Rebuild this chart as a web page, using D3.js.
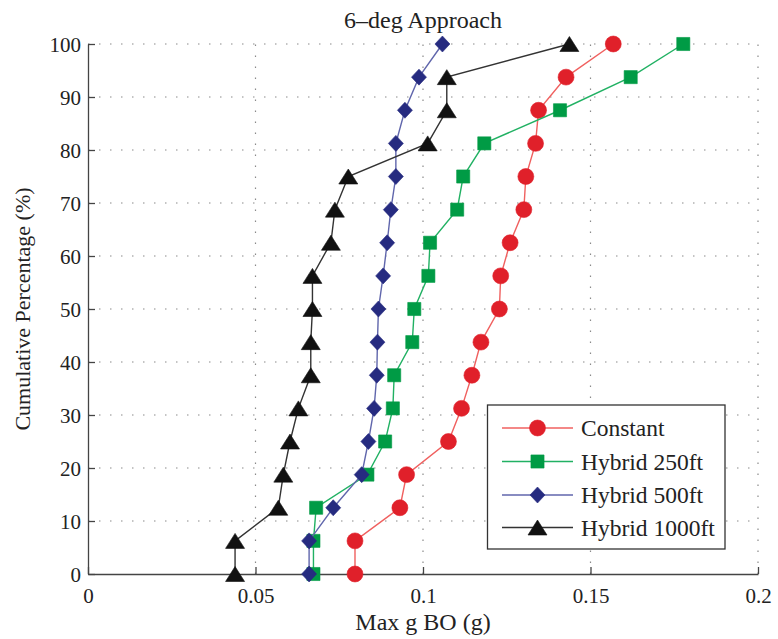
<!DOCTYPE html>
<html>
<head>
<meta charset="utf-8">
<script src="https://cdn.jsdelivr.net/npm/d3@7"></script>
<style>
  html, body { margin: 0; padding: 0; background: #fff; }
  svg { display: block; }
  text { font-family: "Liberation Serif", "Times New Roman", serif; fill: #222; }
</style>
</head>
<body>
<svg id="chart" width="778" height="639"></svg>
<script>
// Cumulative percentage levels shared by every series
const cumulative = [0, 6.25, 12.5, 18.75, 25, 31.25, 37.5, 43.75, 50, 56.25, 62.5, 68.75, 75, 81.25, 87.5, 93.75, 100];

// Max g BO (g) for each approach profile, sorted ascending
const constant   = [0.0797, 0.0797, 0.0931, 0.0951, 0.1076, 0.1115, 0.1146, 0.1173, 0.1228, 0.1232, 0.1260, 0.1301, 0.1307, 0.1336, 0.1345, 0.1427, 0.1568];
const hybrid250  = [0.0673, 0.0673, 0.0681, 0.0834, 0.0887, 0.0910, 0.0914, 0.0968, 0.0974, 0.1016, 0.1021, 0.1102, 0.1120, 0.1183, 0.1409, 0.1620, 0.1777];
const hybrid500  = [0.0660, 0.0660, 0.0732, 0.0817, 0.0837, 0.0854, 0.0862, 0.0864, 0.0867, 0.0881, 0.0893, 0.0904, 0.0919, 0.0919, 0.0946, 0.0988, 0.1058];
const hybrid1000 = [0.0439, 0.0439, 0.0568, 0.0583, 0.0603, 0.0628, 0.0665, 0.0665, 0.0670, 0.0670, 0.0725, 0.0737, 0.0777, 0.1014, 0.1071, 0.1071, 0.1437];

const seriesNames = ["Constant", "Hybrid 250ft", "Hybrid 500ft", "Hybrid 1000ft"];
const xTicks = [0, 0.05, 0.1, 0.15, 0.2];
const xTickLabels = ["0", "0.05", "0.1", "0.15", "0.2"];
const yTicks = [0, 10, 20, 30, 40, 50, 60, 70, 80, 90, 100];

// Marker shapes: a near-square diamond and a flat, box-centred triangle
const symDiamond = {
  draw(ctx) {
    ctx.moveTo(0, -8); ctx.lineTo(7.5, 0); ctx.lineTo(0, 8); ctx.lineTo(-7.5, 0); ctx.closePath();
  }
};
const symTriangle = {
  draw(ctx) {
    ctx.moveTo(0, -7.5); ctx.lineTo(9.5, 7.5); ctx.lineTo(-9.5, 7.5); ctx.closePath();
  }
};

const series = [
  { name: seriesNames[0], values: constant,   line: "#f0605f", fill: "#e0202a", symbol: d3.symbolCircle, size: 200 },
  { name: seriesNames[1], values: hybrid250,  line: "#21b163", fill: "#009b45", symbol: d3.symbolSquare, size: 172 },
  { name: seriesNames[2], values: hybrid500,  line: "#6066ac", fill: "#262b80", symbol: symDiamond,      size: 1 },
  { name: seriesNames[3], values: hybrid1000, line: "#333333", fill: "#111111", symbol: symTriangle,     size: 1 }
];

const svg = d3.select("#chart");
const plotL = 88, plotR = 758, plotT = 44, plotB = 574;

const x = d3.scaleLinear().domain([0, 0.2]).range([plotL, plotR]);
const y = d3.scaleLinear().domain([0, 100]).range([plotB, plotT]);

// Dotted grid
const grid = svg.append("g").attr("stroke", "#8a8a8a").attr("stroke-width", 1.2)
  .attr("stroke-dasharray", "1.5,9.5").attr("fill", "none");
grid.selectAll("line.h").data(yTicks.filter(d => d > 0)).join("line")
  .attr("class", "h")
  .attr("x1", plotL).attr("x2", plotR)
  .attr("y1", d => y(d)).attr("y2", d => y(d));
grid.selectAll("line.v").data(xTicks.filter(d => d > 0)).join("line")
  .attr("class", "v")
  .attr("y1", plotB).attr("y2", plotT)
  .attr("x1", d => x(d)).attr("x2", d => x(d));

// Axes (ticks point inward)
const xAxis = svg.append("g").attr("transform", `translate(0,${plotB})`)
  .call(d3.axisBottom(x).tickValues(xTicks).tickSizeInner(-7).tickSizeOuter(0)
    .tickFormat((d, i) => xTickLabels[i]).tickPadding(14));
const yAxis = svg.append("g").attr("transform", `translate(${plotL},0)`)
  .call(d3.axisLeft(y).tickValues(yTicks).tickSizeInner(-7).tickSizeOuter(0).tickPadding(7));

[xAxis, yAxis].forEach(a => {
  a.select(".domain").attr("stroke", "#444").attr("stroke-width", 1.3);
  a.selectAll(".tick line").attr("stroke", "#444").attr("stroke-width", 1.3);
  a.selectAll(".tick text").style("font-family", '"Liberation Serif", serif')
    .style("font-size", "21px").attr("fill", "#222");
});
yAxis.selectAll(".tick text").attr("dy", "0.35em");
xAxis.selectAll(".tick text").attr("dy", "0.71em");

// Series lines and markers
const line = d3.line().x(d => x(d[0])).y(d => y(d[1]));
series.forEach(s => {
  const pts = s.values.map((v, i) => [v, cumulative[i]]);
  const g = svg.append("g");
  g.append("path").datum(pts).attr("d", line)
    .attr("fill", "none").attr("stroke", s.line).attr("stroke-width", 1.4);
  g.selectAll("path.m").data(pts).join("path")
    .attr("class", "m")
    .attr("transform", d => `translate(${x(d[0])},${y(d[1])})`)
    .attr("d", d3.symbol().type(s.symbol).size(s.size))
    .attr("fill", s.fill).attr("stroke", s.fill).attr("stroke-width", 0.6);
});

// Title and axis labels
svg.append("text").attr("x", (plotL + plotR) / 2).attr("y", 28)
  .attr("text-anchor", "middle").style("font-size", "24px").text("6–deg Approach");
svg.append("text").attr("x", (plotL + plotR) / 2).attr("y", 630)
  .attr("text-anchor", "middle").style("font-size", "24px").text("Max g BO (g)");
svg.append("text").attr("transform", `translate(30,${(plotT + plotB) / 2}) rotate(-90)`)
  .attr("text-anchor", "middle").style("font-size", "22px").text("Cumulative Percentage (%)");

// Legend
const lg = svg.append("g");
lg.append("rect").attr("x", 487.5).attr("y", 405).attr("width", 237.5).attr("height", 144)
  .attr("fill", "#fff").attr("stroke", "#333").attr("stroke-width", 1.3);
const rowY = [428, 461.5, 495, 527.5];
series.forEach((s, i) => {
  const row = lg.append("g").attr("transform", `translate(0,${rowY[i]})`);
  row.append("line").attr("x1", 502).attr("x2", 573).attr("y1", 0).attr("y2", 0)
    .attr("stroke", s.line).attr("stroke-width", 1.4);
  row.append("path").attr("transform", "translate(537.5,0)")
    .attr("d", d3.symbol().type(s.symbol).size(s.size))
    .attr("fill", s.fill).attr("stroke", s.fill).attr("stroke-width", 0.6);
  row.append("text").attr("x", 581).attr("y", 0).attr("dy", "0.35em")
    .style("font-size", "23.5px").text(s.name);
});
</script>
</body>
</html>
